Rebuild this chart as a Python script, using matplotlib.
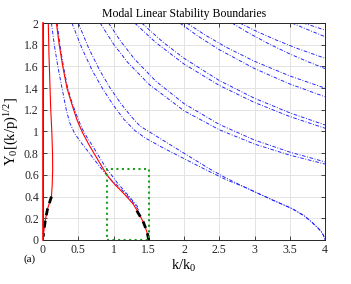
import matplotlib
matplotlib.use('Agg')
import matplotlib.pyplot as plt

plt.rcParams['font.family'] = 'Liberation Serif'
plt.rcParams['mathtext.fontset'] = 'custom'
plt.rcParams['mathtext.rm'] = 'Liberation Serif'
plt.rcParams['mathtext.it'] = 'Liberation Serif:italic'

# blue boundary pairs (k/k0, Y0)
a1_x = [0.12, 0.16, 0.21, 0.27, 0.33, 0.38, 0.45, 0.55, 0.67, 0.8, 0.9, 0.97, 1.05, 1.15, 1.25, 1.33, 1.36]
a1_y = [2.0, 1.8, 1.6, 1.4, 1.2, 1.08, 0.98, 0.89, 0.79, 0.68, 0.6, 0.55, 0.505, 0.44, 0.37, 0.3, 0.27]
a2_x = [0.2, 0.24, 0.29, 0.35, 0.42, 0.5, 0.56, 0.63, 0.72, 0.82, 0.9, 0.97, 1.05, 1.15, 1.25, 1.35]
a2_y = [2.0, 1.8, 1.6, 1.4, 1.25, 1.11, 1.02, 0.94, 0.85, 0.74, 0.66, 0.6, 0.53, 0.455, 0.38, 0.3]

tail_x = [3.0, 3.25, 3.53, 3.7, 3.81, 3.9, 3.95, 3.98, 4.0]
tail_y = [0.445, 0.37, 0.29, 0.225, 0.166, 0.11, 0.074, 0.04, 0.0]
b1_x = [0.41, 0.55, 0.7, 0.85, 1.0, 1.15, 1.3, 1.45, 1.7, 2.0, 2.3, 2.6, 2.85] + tail_x
b1_y = [2.0, 1.77, 1.56, 1.39, 1.24, 1.11, 1.01, 0.94, 0.85, 0.75, 0.65, 0.555, 0.49] + tail_y
b2_x = [0.5, 0.65, 0.8, 0.95, 1.1, 1.25, 1.376, 1.6, 1.85, 2.1, 2.35, 2.6, 2.85] + tail_x
b2_y = [2.0, 1.765, 1.569, 1.403, 1.261, 1.139, 1.05, 0.96, 0.86, 0.76, 0.66, 0.57, 0.49] + tail_y

c1_x = [0.81, 1.0, 1.2, 1.5, 2.0, 2.5, 3.0, 3.5, 4.0]
c1_y = [2.0, 1.806, 1.638, 1.437, 1.191, 1.016, 0.884, 0.782, 0.70]
c2_x = [0.93, 1.1, 1.3, 1.6, 2.0, 2.5, 3.0, 3.5, 4.0]
c2_y = [2.0, 1.833, 1.666, 1.464, 1.257, 1.065, 0.921, 0.81, 0.72]

d1_x = [1.3, 1.6, 2.0, 2.5, 3.0, 3.5, 4.0]
d1_y = [2.0, 1.82, 1.622, 1.425, 1.267, 1.138, 1.03]
d2_x = [1.4, 1.7, 2.0, 2.5, 3.0, 3.5, 4.0]
d2_y = [2.0, 1.824, 1.675, 1.47, 1.306, 1.172, 1.06]

e1_x = [1.94, 2.2, 2.5, 3.0, 3.5, 4.0]
e1_y = [2.0, 1.878, 1.754, 1.58, 1.438, 1.32]
e2_x = [2.04, 2.3, 2.6, 3.0, 3.5, 4.0]
e2_y = [2.0, 1.889, 1.776, 1.647, 1.512, 1.40]

f1_x = [2.68, 2.9, 3.2, 3.5, 3.75, 4.0]
f1_y = [2.0, 1.914, 1.809, 1.715, 1.645, 1.58]
f2_x = [2.79, 3.0, 3.3, 3.6, 4.0]
f2_y = [2.0, 1.932, 1.845, 1.767, 1.675]

g1_x = [3.53, 3.75, 4.0]
g1_y = [2.0, 1.94, 1.874]
g2_x = [3.69, 3.85, 4.0]
g2_y = [2.0, 1.967, 1.935]

blue_x = [a1_x, a2_x, b1_x, b2_x, c1_x, c2_x, d1_x, d2_x, e1_x, e2_x, f1_x, f2_x, g1_x, g2_x]
blue_y = [a1_y, a2_y, b1_y, b2_y, c1_y, c2_y, d1_y, d2_y, e1_y, e2_y, f1_y, f2_y, g1_y, g2_y]

# red boundaries
red1_x = [0.19, 0.23, 0.28, 0.34, 0.41, 0.48, 0.56, 0.65, 0.75, 0.85, 0.93, 1.02, 1.12, 1.2, 1.28, 1.35, 1.41, 1.45, 1.48, 1.5]
red1_y = [2.0, 1.8, 1.6, 1.4, 1.25, 1.11, 0.99, 0.88, 0.77, 0.66, 0.58, 0.51, 0.445, 0.39, 0.33, 0.255, 0.18, 0.12, 0.06, 0.0]
red2_x = [0.075, 0.085, 0.1, 0.11, 0.125, 0.135, 0.137, 0.13, 0.12, 0.066, 0.038, 0.015, 0.003, 0.0]
red2_y = [2.0, 1.7, 1.4, 1.2, 1.0, 0.8, 0.65, 0.5, 0.4, 0.29, 0.2, 0.1, 0.03, 0.0]
red3_x = [0.0, 0.0]
red3_y = [0.0, 2.0]

# black dashed pieces
blk1_x = [0.12, 0.066, 0.038, 0.015, 0.003]
blk1_y = [0.4, 0.29, 0.2, 0.1, 0.03]
blk2_x = [1.33, 1.38, 1.42, 1.45, 1.48, 1.5]
blk2_y = [0.27, 0.215, 0.17, 0.12, 0.06, 0.0]

# green zoom box
box_x = [0.91, 1.5, 1.5, 0.91, 0.91]
box_y = [0.0, 0.0, 0.65, 0.65, 0.0]

fig = plt.figure(figsize=(3.51, 2.84), dpi=100)
ax = fig.add_axes([0.1225, 0.155, 0.8035, 0.764])

for xs, ys in zip(blue_x, blue_y):
    ax.plot(xs, ys, color='#1a1aff', lw=0.65, ls='-.', dashes=(4, 1.8, 1, 1.8))

ax.plot(red1_x, red1_y, color='#ff0000', lw=0.8)
ax.plot(red2_x, red2_y, color='#ff0000', lw=0.8)
ax.plot(red3_x, red3_y, color='#ff0000', lw=1.2, clip_on=False, zorder=5)

ax.plot(blk1_x, blk1_y, color='black', lw=2, ls='--', dashes=(2.5, 2))
ax.plot(blk2_x, blk2_y, color='black', lw=2, ls='--', dashes=(2.5, 2))

ax.plot(box_x, box_y, color='#1e9e1e', lw=1.5, ls=':')

ax.set_xlim(0, 4)
ax.set_ylim(0, 2)
ax.set_xticks([0, 0.5, 1, 1.5, 2, 2.5, 3, 3.5, 4])
ax.set_xticklabels(['0', '0.5', '1', '1.5', '2', '2.5', '3', '3.5', '4'])
ax.set_yticks([0, 0.2, 0.4, 0.6, 0.8, 1, 1.2, 1.4, 1.6, 1.8, 2])
ax.set_yticklabels(['0', '0.2', '0.4', '0.6', '0.8', '1', '1.2', '1.4', '1.6', '1.8', '2'])
ax.grid(True, color='#e3e3e3', lw=0.7)
ax.set_axisbelow(True)
ax.tick_params(direction='in', length=3, width=0.6, labelsize=8.5, colors='#262626',
               top=True, right=True, pad=3)
for s in ax.spines.values():
    s.set_color('#262626')
    s.set_linewidth(0.7)

ax.set_title('Modal Linear Stability Boundaries', fontsize=8.5, pad=4)
ax.set_xlabel(r'$\mathrm{k/k_0}$', fontsize=10.5, labelpad=1)
ax.set_ylabel(r'$\mathrm{Y_0[(k/p)^{1/2}]}$', fontsize=10.5, labelpad=2)
fig.text(0.066, 0.088, '(a)', fontsize=8, ha='left', va='center')

fig.savefig('out.png', dpi=100)
